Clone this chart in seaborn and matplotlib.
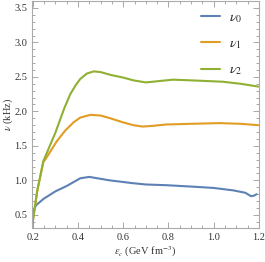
import pandas as pd
import numpy as np
import seaborn as sns
import matplotlib.pyplot as plt
from matplotlib.ticker import MultipleLocator

# Data
eps_0 = [0.197, 0.199, 0.203, 0.215, 0.247, 0.30, 0.351, 0.41, 0.45, 0.54, 0.64,
         0.70, 0.79, 0.90, 1.00, 1.086, 1.14, 1.165, 1.18, 1.19]
nu_0 = [0.31, 0.45, 0.56, 0.64, 0.73, 0.84, 0.92, 1.03, 1.05, 1.00, 0.96,
        0.94, 0.93, 0.91, 0.89, 0.855, 0.82, 0.77, 0.78, 0.80]

eps_1 = [0.197, 0.20, 0.22, 0.247, 0.255, 0.307, 0.343, 0.38, 0.41, 0.455, 0.50,
         0.543, 0.60, 0.645, 0.686, 0.73, 0.79, 0.90, 1.027, 1.12, 1.197]
nu_1 = [0.31, 0.40, 0.85, 1.27, 1.30, 1.57, 1.72, 1.84, 1.91, 1.95, 1.94,
        1.90, 1.84, 1.80, 1.78, 1.79, 1.81, 1.82, 1.83, 1.82, 1.80]

eps_2 = [0.197, 0.20, 0.22, 0.247, 0.30, 0.34, 0.366, 0.39, 0.41, 0.44, 0.47,
         0.50, 0.543, 0.60, 0.645, 0.70, 0.76, 0.82, 0.90, 1.04, 1.12, 1.197]
nu_2 = [0.31, 0.40, 0.85, 1.28, 1.69, 2.05, 2.25, 2.38, 2.47, 2.55, 2.58,
        2.57, 2.53, 2.49, 2.45, 2.42, 2.44, 2.46, 2.45, 2.43, 2.40, 2.36]

labels = [r'$\nu_0$', r'$\nu_1$', r'$\nu_2$']
colors = ['#5E81B5', '#E19C24', '#8FB032']

df = pd.concat([
    pd.DataFrame({'eps': eps_0, 'nu': nu_0, 'mode': labels[0]}),
    pd.DataFrame({'eps': eps_1, 'nu': nu_1, 'mode': labels[1]}),
    pd.DataFrame({'eps': eps_2, 'nu': nu_2, 'mode': labels[2]}),
])

sns.set_style('ticks')
plt.rcParams['font.family'] = ['Liberation Serif', 'DejaVu Serif']
plt.rcParams['mathtext.fontset'] = 'stix'

fig = plt.figure(figsize=(2.65, 2.62), dpi=100)
ax = fig.add_axes([0.121, 0.130, 0.856, 0.866])

sns.lineplot(data=df, x='eps', y='nu', hue='mode', palette=colors, sort=False,
             estimator=None, linewidth=1.5, ax=ax)

ax.set_xlim(0.197, 1.2)
ax.set_ylim(0.31, 3.6)
ax.xaxis.set_major_locator(MultipleLocator(0.2))
ax.xaxis.set_minor_locator(MultipleLocator(0.05))
ax.yaxis.set_major_locator(MultipleLocator(0.5))
ax.yaxis.set_minor_locator(MultipleLocator(0.1))
ax.tick_params(which='both', direction='in', top=True, right=True, colors='#999999',
               labelcolor='#333333', labelsize=7.5, width=0.6)
ax.tick_params(which='major', length=4)
ax.tick_params(which='minor', length=2)
for s in ax.spines.values():
    s.set_color('#aaaaaa')
    s.set_linewidth(0.8)

ax.set_xlabel(r'$\epsilon_c$ (GeV fm$^{-3}$)', fontsize=7.5, color='#333333', labelpad=2)
ax.set_ylabel(r'$\nu$ (kHz)', fontsize=7.5, color='#333333')
ax.yaxis.set_label_coords(-0.075, 0.5)

leg = ax.legend(loc='upper right', frameon=False, fontsize=10, labelspacing=0.9,
                handlelength=1.3, handletextpad=0.7, borderaxespad=0.3,
                bbox_to_anchor=(0.97, 1.0))
for line in leg.get_lines():
    line.set_linewidth(1.5)

fig.savefig('out.png', dpi=100)
